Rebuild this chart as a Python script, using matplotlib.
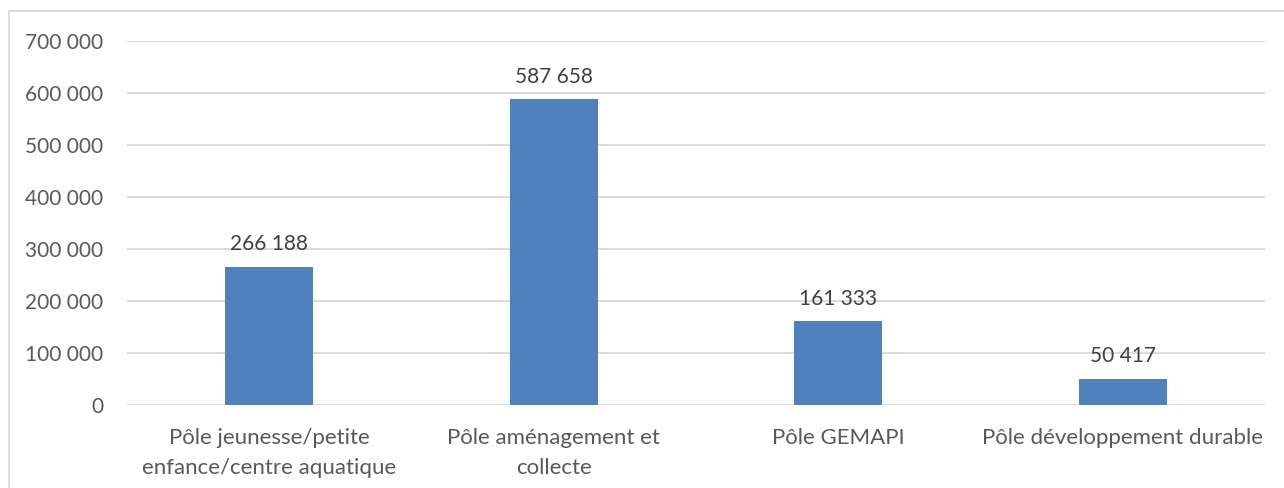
import matplotlib
matplotlib.use("Agg")
import matplotlib.pyplot as plt
from matplotlib.patches import Rectangle

categories = ["Pôle jeunesse/petite\nenfance/centre aquatique",
              "Pôle aménagement et\ncollecte",
              "Pôle GEMAPI",
              "Pôle développement durable"]
values = [266188, 587658, 161333, 50417]
yticks = [0, 100000, 200000, 300000, 400000, 500000, 600000, 700000]

def fmt(v):
    return f"{v:,}".replace(",", " ")

plt.rcParams['font.family'] = ['Lato', 'DejaVu Sans']

fig = plt.figure(figsize=(12.84, 4.88), dpi=100)
ax = fig.add_axes([127/1284, 1-405/488, 1138/1284, 364/488])

x = list(range(len(categories)))
ax.bar(x, values, width=0.31, color="#4F81BD", zorder=3)
for xi, v in zip(x, values):
    ax.annotate(fmt(v), (xi, v), xytext=(0, 9), textcoords="offset points",
                ha="center", va="bottom", fontsize=15, color="#404040")

ax.set_xlim(-0.5, len(categories)-0.5)
ax.set_ylim(0, 700000)
ax.set_yticks(yticks)
ax.set_yticklabels([fmt(t) for t in yticks])
ax.set_xticks(x)
ax.set_xticklabels(categories, linespacing=1.6)
ax.tick_params(axis='y', length=0, pad=17, labelsize=15, labelcolor="#595959")
ax.tick_params(axis='x', length=0, pad=16.5, labelsize=16, labelcolor="#595959")
ax.grid(axis='y', color="#D9D9D9", linewidth=1.3, zorder=0)
for s in ax.spines.values():
    s.set_visible(False)

fig.patches.append(Rectangle((9/1284, -0.1), 1.2, (1-11/488)+0.1,
                             transform=fig.transFigure, fill=False,
                             edgecolor="#D9D9D9", linewidth=1.3))

fig.savefig("out.png", dpi=100)
